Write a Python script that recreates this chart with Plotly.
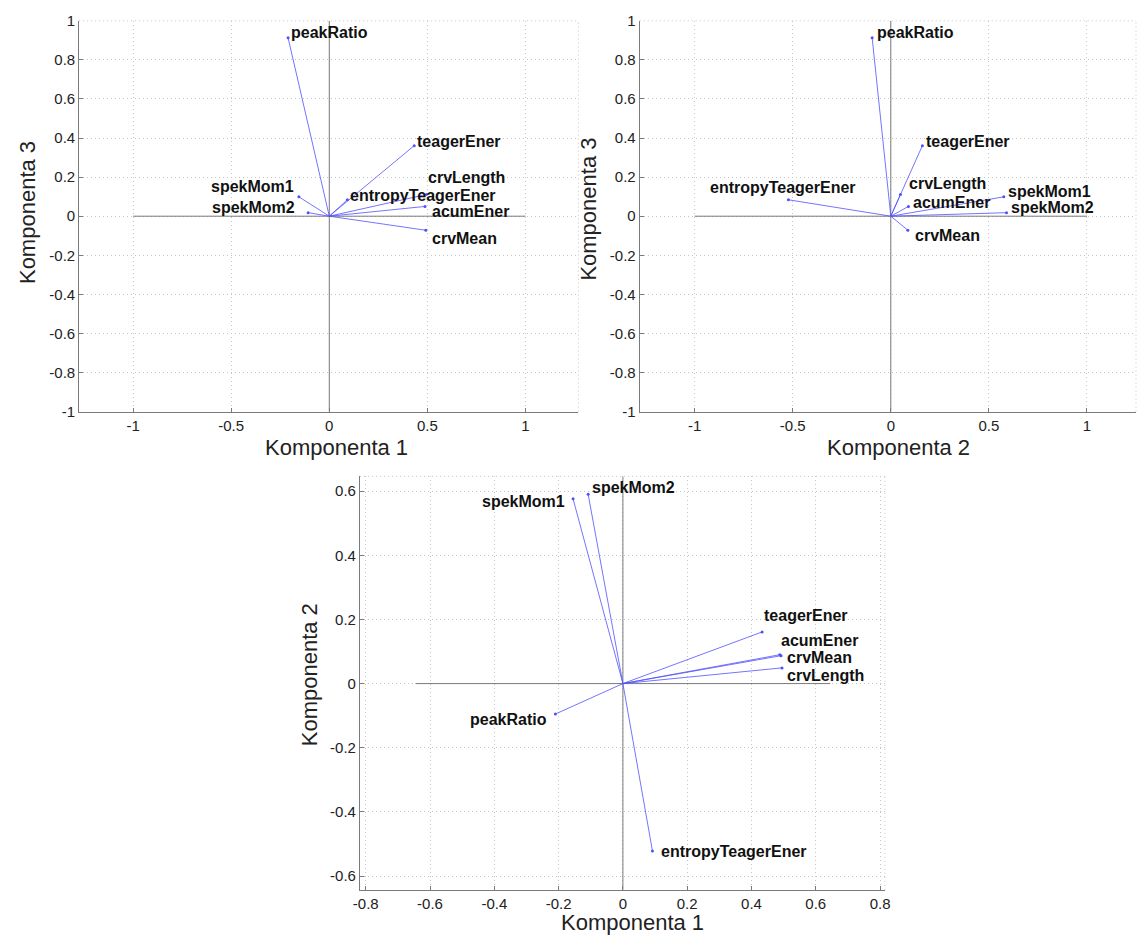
import plotly.graph_objects as go

# ---------------- data (PCA loadings) ----------------
variables = ["spekMom1", "spekMom2", "peakRatio", "teagerEner",
             "crvLength", "entropyTeagerEner", "acumEner", "crvMean"]
comp1 = [-0.155, -0.108, -0.210, 0.433, 0.495, 0.092, 0.488, 0.492]
comp2 = [0.576, 0.590, -0.095, 0.161, 0.049, -0.522, 0.090, 0.087]
comp3 = [0.099, 0.018, 0.913, 0.361, 0.111, 0.084, 0.050, -0.072]

top_xticks = [-1, -0.5, 0, 0.5, 1]
top_xticktext = ["-1", "-0.5", "0", "0.5", "1"]
top_yticks = [-1, -0.8, -0.6, -0.4, -0.2, 0, 0.2, 0.4, 0.6, 0.8, 1]
top_yticktext = ["-1", "-0.8", "-0.6", "-0.4", "-0.2", "0", "0.2", "0.4", "0.6", "0.8", "1"]
bot_xticks = [-0.8, -0.6, -0.4, -0.2, 0, 0.2, 0.4, 0.6, 0.8]
bot_xticktext = ["-0.8", "-0.6", "-0.4", "-0.2", "0", "0.2", "0.4", "0.6", "0.8"]
bot_yticks = [-0.6, -0.4, -0.2, 0, 0.2, 0.4, 0.6]
bot_yticktext = ["-0.6", "-0.4", "-0.2", "0", "0.2", "0.4", "0.6"]

# ---------------- label placement (styling) ----------------
offs_13 = {"peakRatio": ("left", 1, 5), "teagerEner": ("left", 1, 4),
           "crvLength": ("left", 0, 17), "entropyTeagerEner": ("left", 1, 4),
           "acumEner": ("left", 5, -5), "crvMean": ("left", 4, -8),
           "spekMom1": ("right", -3, 10), "spekMom2": ("right", -11, 5)}
offs_23 = {"peakRatio": ("left", 3, 5), "teagerEner": ("left", 2, 4),
           "entropyTeagerEner": ("center", -5, 12), "crvLength": ("left", 7, 11),
           "acumEner": ("left", 3, 4), "crvMean": ("left", 5, -5),
           "spekMom1": ("left", 2, 5), "spekMom2": ("left", 2, 5)}
offs_12 = {"spekMom1": ("right", -6, -3), "spekMom2": ("left", 2, 7),
           "teagerEner": ("left", 0, 16), "acumEner": ("left", -1, 14),
           "crvMean": ("left", 4, -2), "crvLength": ("left", 3, -8),
           "peakRatio": ("right", -6, -5), "entropyTeagerEner": ("left", 7, 0)}

W, H = 1142, 942
FONT = "Liberation Sans, Arial, sans-serif"
VEC = "rgb(80,80,255)"
AXC = "#7a7a7a"
GRID = "#c4c4c4"
GRIDDASH = "1px,3px"

panels = [
    dict(xa="x", ya="y", xd=comp1, yd=comp3, offs=offs_13,
         dom_x=[73 / W, 578 / W], dom_y=[1 - 410 / H, 1 - 12 / H],
         xr=[-1.275, 1.27], yr=[-1, 1], L=1.0,
         xt=(top_xticks, top_xticktext), yt=(top_yticks, top_yticktext),
         xtitle=("Komponenta 1", 333, 447), ytitle=("Komponenta 3", 20, 207)),
    dict(xa="x2", ya="y2", xd=comp2, yd=comp3, offs=offs_23,
         dom_x=[640 / W, 1.0], dom_y=[1 - 410 / H, 1 - 12 / H],
         xr=[-1.28, 1.25], yr=[-1, 1], L=1.0,
         xt=(top_xticks, top_xticktext), yt=(top_yticks, top_yticktext),
         xtitle=("Komponenta 2", 902, 447), ytitle=("Komponenta 3", 588, 204)),
    dict(xa="x3", ya="y3", xd=comp1, yd=comp2, offs=offs_12,
         dom_x=[357 / W, 888 / W], dom_y=[1 - 897 / H, 1 - 476 / H],
         xr=[-0.818, 0.815], yr=[-0.643, 0.646], L=0.645,
         xt=(bot_xticks, bot_xticktext), yt=(bot_yticks, bot_yticktext),
         xtitle=("Komponenta 1", 633, 930), ytitle=("Komponenta 2", 306, 678)),
]

fig = go.Figure()
shapes = []
annotations = []

for i, p in enumerate(panels):
    sfx = "" if i == 0 else str(i + 1)
    # reference axes lines through origin
    shapes.append(dict(type="line", xref=p["xa"], yref=p["ya"], x0=-p["L"], x1=p["L"],
                       y0=0, y1=0, line=dict(color=AXC, width=1), layer="between"))
    shapes.append(dict(type="line", xref=p["xa"], yref=p["ya"], x0=0, x1=0,
                       y0=p["yr"][0], y1=p["yr"][1], line=dict(color=AXC, width=1), layer="between"))
    # dotted right / top box edges
    shapes.append(dict(type="line", xref=p["xa"] + " domain", yref=p["ya"] + " domain",
                       x0=1, x1=1, y0=0, y1=1, line=dict(color=GRID, width=1, dash=GRIDDASH)))
    shapes.append(dict(type="line", xref=p["xa"] + " domain", yref=p["ya"] + " domain",
                       x0=0, x1=1, y0=1, y1=1, line=dict(color=GRID, width=1, dash=GRIDDASH)))

    lx, ly = [], []
    for vx, vy in zip(p["xd"], p["yd"]):
        lx += [0, vx, None]
        ly += [0, vy, None]
    fig.add_trace(go.Scatter(x=lx, y=ly, mode="lines", xaxis=p["xa"], yaxis=p["ya"],
                             line=dict(color=VEC, width=0.8), hoverinfo="skip", showlegend=False))
    fig.add_trace(go.Scatter(x=p["xd"], y=p["yd"], mode="markers", xaxis=p["xa"], yaxis=p["ya"],
                             marker=dict(color=VEC, size=3), text=variables,
                             showlegend=False))
    for name, vx, vy in zip(variables, p["xd"], p["yd"]):
        anc, dx, dy = p["offs"][name]
        annotations.append(dict(x=vx, y=vy, xref=p["xa"], yref=p["ya"], text="<b>%s</b>" % name,
                                showarrow=False, xanchor=anc, yanchor="middle",
                                xshift=dx, yshift=dy,
                                font=dict(family=FONT, size=16, color="#111111")))
    t, tx, ty = p["xtitle"]
    annotations.append(dict(x=tx / W, y=1 - ty / H, xref="paper", yref="paper", text=t,
                            showarrow=False, xanchor="center", yanchor="middle",
                            font=dict(family=FONT, size=22, color="#222222")))
    t, tx, ty = p["ytitle"]
    annotations.append(dict(x=tx / W, y=1 - ty / H, xref="paper", yref="paper", text=t,
                            showarrow=False, xanchor="center", yanchor="middle", textangle=-90,
                            font=dict(family=FONT, size=22, color="#222222")))

    axis_common = dict(showline=True, linecolor=AXC, linewidth=1, mirror=False,
                       ticks="inside", ticklen=4, tickcolor=AXC,
                       showgrid=True, gridcolor=GRID, griddash=GRIDDASH, gridwidth=1,
                       zeroline=False, tickmode="array",
                       tickfont=dict(family=FONT, size=15, color="#222222"))
    fig.layout["xaxis" + sfx] = dict(axis_common, domain=p["dom_x"], range=p["xr"],
                                     anchor=p["ya"], tickvals=p["xt"][0], ticktext=p["xt"][1])
    fig.layout["yaxis" + sfx] = dict(axis_common, domain=p["dom_y"], range=p["yr"],
                                     anchor=p["xa"], tickvals=p["yt"][0], ticktext=p["yt"][1])

fig.update_layout(width=W, height=H, margin=dict(l=0, r=0, t=0, b=0),
                  paper_bgcolor="white", plot_bgcolor="white",
                  shapes=shapes, annotations=annotations, showlegend=False)

fig.write_html("out.html", config={"displayModeBar": False},
               post_script="document.body.style.margin='0';document.body.style.overflow='hidden';")
